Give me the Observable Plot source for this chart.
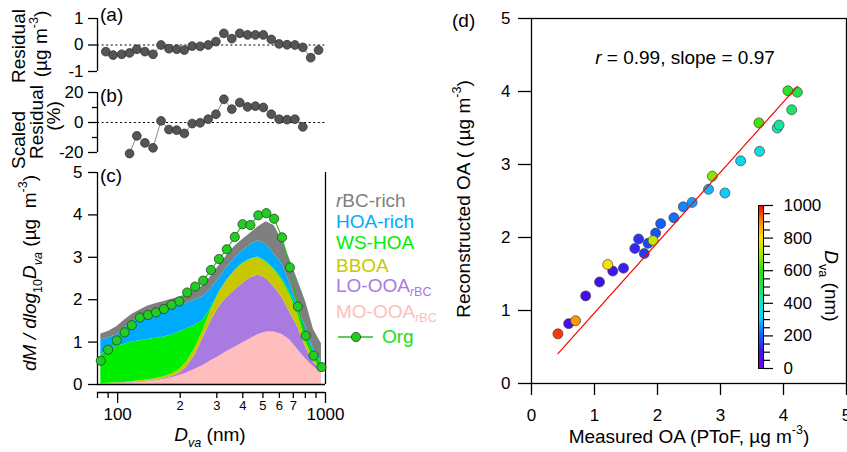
<!DOCTYPE html>
<html><head><meta charset="utf-8">
<script src="https://cdn.jsdelivr.net/npm/d3@7"></script>
<script src="https://cdn.jsdelivr.net/npm/@observablehq/plot@0.6"></script>
<style>
html,body{margin:0;padding:0;background:#fff;}
#fig{position:relative;width:847px;height:452px;overflow:hidden;font-family:Arial,"Liberation Sans",sans-serif;background:#fff;}
#fig > svg{position:absolute;}
</style></head><body><div id="fig"></div>
<script>
// ---------------- data ----------------
const sizes = [83, 90, 99, 108, 117, 128, 140, 153, 167, 182, 198, 216, 236, 258, 281, 307, 335, 366, 399, 435, 475, 519, 566, 618, 674, 736, 803, 876, 956];
const org = [0.56, 0.82, 1.04, 1.23, 1.40, 1.58, 1.64, 1.70, 1.78, 1.88, 1.96, 2.17, 2.31, 2.45, 2.70, 2.96, 3.19, 3.48, 3.78, 3.76, 3.99, 4.04, 3.91, 3.47, 2.76, 1.84, 1.15, 0.68, 0.41];
const moOOA  = [0.00,0.01,0.02,0.03,0.04,0.05,0.07,0.09,0.12,0.16,0.21,0.28,0.36,0.45,0.56,0.66,0.78,0.88,0.98,1.08,1.18,1.24,1.24,1.18,1.05,0.82,0.60,0.42,0.28];
const loOOA  = [0.01,0.01,0.01,0.01,0.01,0.01,0.01,0.01,0.02,0.03,0.05,0.14,0.34,0.65,0.94,1.16,1.27,1.34,1.40,1.44,1.40,1.26,1.06,0.87,0.65,0.53,0.28,0.10,0.04];
const bboa   = [0.01,0.01,0.01,0.01,0.02,0.03,0.03,0.04,0.04,0.06,0.09,0.13,0.16,0.18,0.25,0.33,0.40,0.46,0.47,0.43,0.42,0.38,0.40,0.40,0.40,0.30,0.12,0.08,0.02];
const wsHOA  = [0.68,0.79,0.86,0.90,0.93,0.94,0.95,0.95,0.94,0.92,0.89,0.77,0.54,0.24,0.05,0.02,0.01,0.01,0.01,0.01,0.01,0.02,0.03,0.05,0.08,0.13,0.20,0.18,0.18];
const hoaRich= [0.35,0.28,0.27,0.38,0.46,0.55,0.62,0.65,0.66,0.65,0.62,0.60,0.59,0.56,0.45,0.33,0.30,0.29,0.29,0.34,0.38,0.40,0.35,0.34,0.22,0.07,0.15,0.07,0.03];
const rbcRich= [0.14,0.15,0.19,0.19,0.19,0.18,0.17,0.17,0.18,0.19,0.20,0.21,0.23,0.25,0.30,0.30,0.28,0.28,0.27,0.27,0.33,0.54,0.67,0.56,0.55,0.60,0.60,0.45,0.41];
const comps = ["MO-OOA", "LO-OOA", "BBOA", "WS-HOA", "HOA-rich", "rBC-rich"];
const compColors = ["#ffbdbd", "#a97ae0", "#c8c800", "#00ee00", "#00aaff", "#7f7f7f"];

const residual = [-0.25,-0.38,-0.35,-0.30,-0.16,-0.25,-0.35,0.00,-0.14,-0.16,-0.19,-0.04,-0.05,0.00,0.13,0.44,0.24,0.44,0.38,0.38,0.38,0.21,0.04,0.01,0.00,-0.09,-0.48,-0.19];
const scaledResidual = [-20.7,-8.9,-13.6,-16.9,1.1,-4.7,-5.1,-7.3,-0.7,-0.2,2.2,5.5,15.5,8.9,13.3,10.4,10.9,10.0,5.5,2.2,1.9,2.2,-2.9];
const scaledFirstIndex = 3;

const measuredOA = [0.59,0.86,1.08,1.29,1.46,1.64,1.70,1.79,1.85,1.97,2.05,2.26,2.41,2.55,2.81,3.07,3.32,3.62,3.90,3.93,4.13,4.22,4.07,3.61,2.87,1.93,1.21,0.70,0.42];
const reconOA  = [0.82,1.20,1.39,1.54,1.58,1.85,1.98,1.78,1.92,2.06,2.19,2.27,2.42,2.48,2.66,2.61,3.05,3.18,3.50,3.54,3.75,3.99,4.01,3.57,2.84,1.96,1.63,0.86,0.68];
const fitX = [0.42, 4.22];
const fitY = [0.41, 4.07];

const residTicks = [-1, 0, 1];
const scaledTicks = [-20, 0, 20];
const scaledMinor = [-10, 10];
const cTicksY = [0, 1, 2, 3, 4, 5];
const xMajor = [100, 1000];
const xMinor = [80, 90, 200, 300, 400, 500, 600, 700, 800, 900];
const xMinorLabels = ["", "", "2", "3", "4", "5", "6", "7", "", ""];
const dTicks = [0, 1, 2, 3, 4, 5];
const cbMajor = [0, 200, 400, 600, 800, 1000];
const cbMinor = [50,100,150,250,300,350,450,500,550,650,700,750,850,900,950];
const cbStops = [0, 100, 200, 300, 400, 500, 600, 700, 800, 900, 1000];
const cbColors = ["#7a00e6","#4010f0","#1060ff","#10c8ff","#10e8c0","#20e050","#30e010","#a8e800","#ffe000","#ff8000","#ff0000"];

// ---------------- helpers ----------------
const FONT = "Arial, 'Liberation Sans', sans-serif";
const baseStyle = {fontFamily: FONT, background: "transparent", overflow: "visible", color: "black"};
const fig = document.getElementById("fig");
function place(el, left, top) { el.style.left = left + "px"; el.style.top = top + "px"; el.style.position = "absolute"; fig.appendChild(el); }
const str = d => String(d);

// ---------------- panel (a) ----------------
const domainAB = [75.7, 946];
const tabA = residual.map((v, i) => ({size: sizes[i], v}));
place(Plot.plot({
  width: 340, height: 80, marginLeft: 97, marginRight: 15, marginTop: 18, marginBottom: 9,
  style: baseStyle,
  x: {type: "log", domain: domainAB, axis: null},
  y: {domain: [-1, 1]},
  marks: [
    Plot.ruleY([0], {stroke: "black", strokeDasharray: "2,2.6", strokeWidth: 1}),
    Plot.ruleX([domainAB[0]], {y1: -1, y2: 1, stroke: "black", strokeWidth: 1.3}),
    Plot.axisY({ticks: residTicks, tickSize: 9, tickPadding: 5, fontSize: 17, tickFormat: str, strokeWidth: 1.3, label: null}),
    Plot.line(tabA, {x: "size", y: "v", stroke: "#888", strokeWidth: 1}),
    Plot.dot(tabA, {x: "size", y: "v", r: 4.4, fill: "#555", stroke: "#2a2a2a", strokeWidth: 0.7})
  ]
}), 0, 0);

// ---------------- panel (b) ----------------
const tabB = scaledResidual.map((v, i) => ({size: sizes[i + scaledFirstIndex], v}));
place(Plot.plot({
  width: 340, height: 80, marginLeft: 97, marginRight: 15, marginTop: 12, marginBottom: 8,
  style: baseStyle,
  x: {type: "log", domain: domainAB, axis: null},
  y: {domain: [-20, 20]},
  marks: [
    Plot.ruleY([0], {stroke: "black", strokeDasharray: "2,2.6", strokeWidth: 1}),
    Plot.ruleX([domainAB[0]], {y1: -20, y2: 20, stroke: "black", strokeWidth: 1.3}),
    Plot.axisY({ticks: scaledTicks, tickSize: 9, tickPadding: 5, fontSize: 17, tickFormat: str, strokeWidth: 1.3, label: null}),
    Plot.axisY({ticks: scaledMinor, tickSize: 5, tickFormat: () => "", strokeWidth: 1.3, label: null}),
    Plot.line(tabB, {x: "size", y: "v", stroke: "#888", strokeWidth: 1}),
    Plot.dot(tabB, {x: "size", y: "v", r: 4.4, fill: "#555", stroke: "#2a2a2a", strokeWidth: 0.7})
  ]
}), 0, 80);

// ---------------- panel (c) ----------------
const compValues = [moOOA, loOOA, bboa, wsHOA, hoaRich, rbcRich];
const stackTable = comps.flatMap((c, k) => sizes.map((s, i) => ({size: s, comp: c, value: compValues[k][i]})));
const orgTable = sizes.map((s, i) => ({size: s, v: org[i]}));
const minorLbl = new Map(xMinor.map((t, i) => [t, xMinorLabels[i]]));
place(Plot.plot({
  width: 340, height: 292, marginLeft: 97, marginRight: 15, marginTop: 12, marginBottom: 60,
  style: baseStyle,
  x: {type: "log", domain: [80, 1000]},
  y: {domain: [0, 5], insetBottom: 8},
  color: {domain: comps, range: compColors},
  marks: [
    Plot.areaY(stackTable, {x: "size", y: "value", z: "comp", fill: "comp", order: comps, curve: "linear"}),
    Plot.ruleX([80], {y1: 0, y2: 5, stroke: "black", strokeWidth: 1.3}),
    Plot.ruleX([1000], {y1: 0, y2: 5, stroke: "black", strokeWidth: 1.3}),
    Plot.ruleY([0], {stroke: "black", strokeWidth: 1.3}),
    Plot.ruleY([0], {dy: 8, stroke: "black", strokeWidth: 1.3}),
    Plot.axisY({ticks: cTicksY, tickSize: 9, tickPadding: 6, fontSize: 17, tickFormat: str, strokeWidth: 1.3, label: null}),
    Plot.axisX({ticks: xMajor, tickSize: 11, tickPadding: 4, fontSize: 17, tickFormat: str, strokeWidth: 1.3, label: null}),
    Plot.axisX({ticks: xMinor, tickSize: 6, tickPadding: 2, fontSize: 13, tickFormat: d => minorLbl.get(d), strokeWidth: 1.3, label: null}),
    Plot.line(orgTable, {x: "size", y: "v", stroke: "#22bb22", strokeWidth: 1.2}),
    Plot.dot(orgTable, {x: "size", y: "v", r: 4.6, fill: "#22cc22", stroke: "#1a4a1a", strokeWidth: 0.8})
  ]
}), 0, 160);

// ---------------- panel (d) ----------------
const colorSpec = {type: "linear", domain: cbStops, range: cbColors, interpolate: "rgb"};
const tabD = sizes.map((s, i) => ({size: s, m: measuredOA[i], r: reconOA[i]}));
const fitTable = fitX.map((x, i) => ({x, y: fitY[i]}));
place(Plot.plot({
  width: 407, height: 452, marginLeft: 91, marginRight: 1, marginTop: 18, marginBottom: 69,
  style: baseStyle,
  x: {domain: [0, 5]},
  y: {domain: [0, 5]},
  color: colorSpec,
  marks: [
    Plot.frame({stroke: "black", strokeWidth: 1.3}),
    Plot.axisY({ticks: dTicks, tickSize: 13, tickPadding: 8, fontSize: 17, tickFormat: str, strokeWidth: 1.3, label: null}),
    Plot.axisX({ticks: dTicks, tickSize: 12, tickPadding: 13, fontSize: 17, tickFormat: str, strokeWidth: 1.3, label: null}),
    Plot.dot(tabD, {x: "m", y: "r", r: 5, fill: "size", stroke: "#444", strokeWidth: 0.7}),
    Plot.line(fitTable, {x: "x", y: "y", stroke: "#ff0000", strokeWidth: 1.2})
  ]
}), 440, 0);

// ---------------- colour bar ----------------
const ramp = d3.range(0, 1000, 5).map(v => ({y1: v, y2: v + 5, c: v + 2.5}));
place(Plot.plot({
  width: 97, height: 185, marginLeft: 8, marginRight: 84, marginTop: 10, marginBottom: 12,
  style: baseStyle,
  x: {domain: [0, 1], axis: null},
  y: {domain: [0, 1000]},
  color: colorSpec,
  marks: [
    Plot.rect(ramp, {x1: 0, x2: 1, y1: "y1", y2: "y2", fill: "c", shapeRendering: "crispEdges"}),
    Plot.frame({stroke: "black", strokeWidth: 1}),
    Plot.axisY({anchor: "right", ticks: cbMajor, tickSize: 9, tickPadding: 11, fontSize: 17, tickFormat: str, strokeWidth: 1.2, label: null}),
    Plot.axisY({anchor: "right", ticks: cbMinor, tickSize: 6, tickFormat: () => "", strokeWidth: 1.2, label: null})
  ]
}), 750, 195);

// ---------------- text overlay ----------------
const ov = d3.create("svg").attr("width", 847).attr("height", 452)
  .style("position", "absolute").style("left", "0px").style("top", "0px")
  .style("font-family", FONT).style("pointer-events", "none");
fig.appendChild(ov.node());

function rich(x, y, parts, o = {}) {
  const size = o.size || 19;
  const subShift = o.subShift ?? 0.3;
  const t = ov.append("text")
    .attr("transform", `translate(${x},${y})` + (o.rotate ? ` rotate(${o.rotate})` : ""))
    .attr("text-anchor", o.anchor || "start").attr("font-size", size).attr("fill", o.fill || "black");
  let cur = 0;
  for (const [txt, f = ""] of parts) {
    const sp = t.append("tspan").text(txt);
    const small = f.includes("sub") || f.includes("sup");
    const off = f.includes("sub") ? size * subShift : f.includes("sup") ? -size * 0.45 : 0;
    if (off !== cur) { sp.attr("dy", off - cur); cur = off; }
    if (small) sp.attr("font-size", size * 0.66);
    if (f.split(" ").includes("i")) sp.attr("font-style", "italic");
  }
  return t;
}
const NB = "\u00a0";
rich(100, 21, [["(a)"]]);
rich(100, 102, [["(b)"]]);
rich(100, 182, [["(c)"]]);
rich(452, 27, [["(d)"]]);

rich(25, 46, [["Residual"]], {rotate: -90, anchor: "middle"});
rich(47, 44, [["(µg m"], ["-3", "sup"], [")"]], {rotate: -90, anchor: "middle"});
rich(25, 140, [["Scaled"]], {rotate: -90, anchor: "middle"});
rich(43, 122, [["Residual"]], {rotate: -90, anchor: "middle"});
rich(60, 116, [["(%)"]], {rotate: -90, anchor: "middle"});

rich(36, 273, [["dM / dlog", "i"], ["10", "sub"], ["D", "i"], ["va", "i sub"], [" (µg" + NB + NB + "m"], ["-3", "sup"], [")"]], {rotate: -90, anchor: "middle"});
rich(210, 441, [["D", "i"], ["va", "i sub"], [" (nm)"]], {anchor: "middle"});

// legend (c)
const legX = 336;
rich(legX, 207, [["r", "i"], ["BC-rich"]], {fill: compColors[5]});
rich(legX, 228, [["HOA-rich"]], {fill: compColors[4]});
rich(legX, 249, [["WS-HOA"]], {fill: compColors[3]});
rich(legX, 272, [["BBOA"]], {fill: compColors[2]});
rich(legX, 292, [["LO-OOA"], ["r", "i sub"], ["BC", "sub"]], {fill: compColors[1], subShift: 0.2});
rich(legX, 318, [["MO-OOA"], ["r", "i sub"], ["BC", "sub"]], {fill: compColors[0], subShift: 0.2});
ov.append("line").attr("x1", 338).attr("x2", 373).attr("y1", 337).attr("y2", 337).attr("stroke", "#22bb22").attr("stroke-width", 1.5);
ov.append("circle").attr("cx", 356).attr("cy", 337).attr("r", 4.6).attr("fill", "#22cc22").attr("stroke", "#1a4a1a").attr("stroke-width", 0.8);
rich(382, 343, [["Org"]], {fill: "#22dd22"});

// panel (d) texts
rich(685, 64, [["r", "i"], [" = 0.99, slope = 0.97"]], {anchor: "middle"});
rich(470, 199, [["Reconstructed OA ( (µg m"], ["-3", "sup"], [")"]], {rotate: -90, anchor: "middle"});
rich(689, 443, [["Measured OA (PToF, µg m"], ["-3", "sup"], [")"]], {anchor: "middle"});
rich(825, 286, [["D", "i"], ["va", "sub"], [" (nm)"]], {rotate: 90, anchor: "middle"});
</script></body></html>
